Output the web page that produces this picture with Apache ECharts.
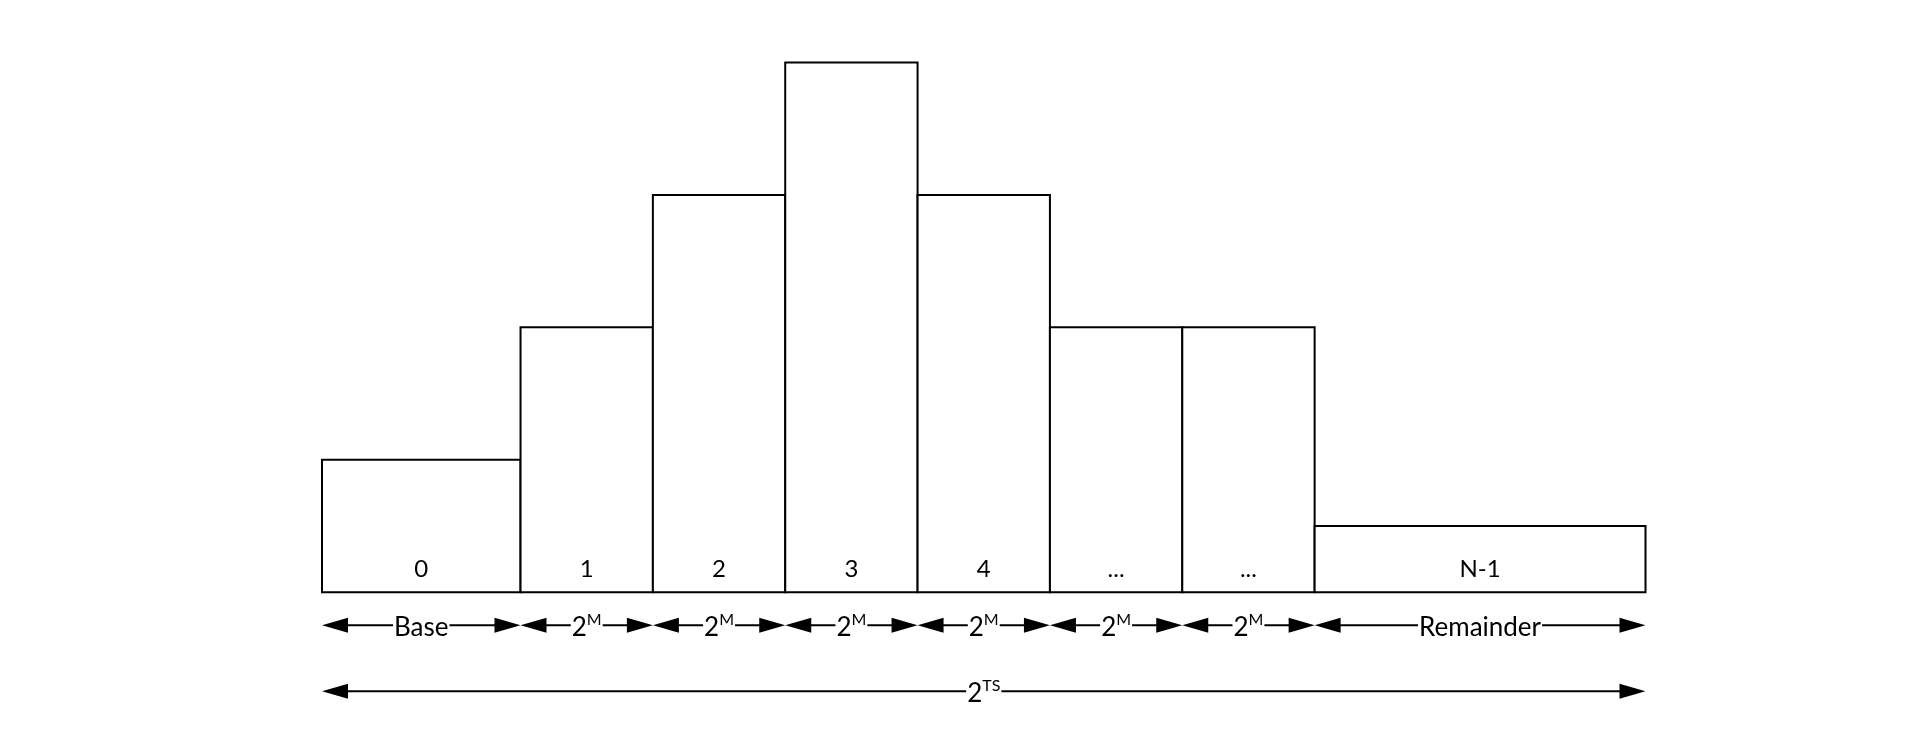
<!DOCTYPE html>
<html>
<head>
<meta charset="utf-8">
<script src="https://cdn.jsdelivr.net/npm/echarts@6/dist/echarts.min.js"></script>
<style>html,body{margin:0;padding:0;background:#fff}#c{width:1910px;height:730px}</style>
</head>
<body>
<div id="c"></div>
<script>
// Data
const barLabels = ['0', '1', '2', '3', '4', '...', '...', 'N-1'];
const widths = [1.5, 1, 1, 1, 1, 1, 1, 2.5];
const heights = [2, 4, 6, 8, 6, 4, 4, 1];
const spanText = ['Base', '2', '2', '2', '2', '2', '2', 'Remainder'];
const spanSup = ['', 'M', 'M', 'M', 'M', 'M', 'M', ''];
const totalText = '2';
const totalSup = 'TS';

const FONT = 'Lato, "Noto Sans", sans-serif';

let acc = 0;
const barData = widths.map((w, i) => {
  const s = acc; acc += w;
  return [s, acc, heights[i], i];
});
const totalWidth = acc;

function arrow(x1, x2, y, main, sup) {
  const L = 26, H = 7.5;
  const txt = sup ? '{a|' + main + '}{s|' + sup + '}' : '{a|' + main + '}';
  return [
    { type: 'line', shape: { x1: x1 + L - 1, y1: y, x2: x2 - L + 1, y2: y }, style: { stroke: '#000', lineWidth: 2 } },
    { type: 'polygon', shape: { points: [[x1, y], [x1 + L, y - H], [x1 + L, y + H]] }, style: { fill: '#000' } },
    { type: 'polygon', shape: { points: [[x2, y], [x2 - L, y - H], [x2 - L, y + H]] }, style: { fill: '#000' } },
    { type: 'text', style: {
        x: (x1 + x2) / 2, y: y + 1, text: txt, align: 'center', verticalAlign: 'middle',
        backgroundColor: '#fff', padding: [0, 1],
        rich: {
          a: { fontFamily: FONT, fontSize: 26, lineHeight: 28, verticalAlign: 'bottom', fill: '#000' },
          s: { fontFamily: FONT, fontSize: 16, lineHeight: 18, verticalAlign: 'top', fill: '#000' }
        }
      } }
  ];
}

const chart = echarts.init(document.getElementById('c'), null, { renderer: 'canvas' });
chart.setOption({
  backgroundColor: '#fff',
  animation: false,
  grid: { left: 322, right: 264.5, top: 62.5, bottom: 137.8 },
  xAxis: { type: 'value', min: 0, max: totalWidth, show: false },
  yAxis: { type: 'value', min: 0, max: 8, show: false },
  series: [
    {
      type: 'custom',
      clip: false,
      data: barData,
      renderItem: function (params, api) {
        const s = api.value(0), e = api.value(1), h = api.value(2), i = api.value(3);
        const p0 = api.coord([s, 0]);
        const p1 = api.coord([e, h]);
        const children = [
          { type: 'rect', shape: { x: p0[0], y: p1[1], width: p1[0] - p0[0], height: p0[1] - p1[1] },
            style: { fill: '#fff', stroke: '#000', lineWidth: 2 } },
          { type: 'text', style: { x: (p0[0] + p1[0]) / 2, y: p0[1] - 23, text: barLabels[i],
            align: 'center', verticalAlign: 'middle', fontFamily: FONT, fontSize: 24, fill: '#000' } }
        ];
        return { type: 'group', children: children.concat(arrow(p0[0], p1[0], p0[1] + 33, spanText[i], spanSup[i])) };
      }
    },
    {
      type: 'custom',
      clip: false,
      data: [[0, totalWidth]],
      renderItem: function (params, api) {
        const p0 = api.coord([api.value(0), 0]);
        const p1 = api.coord([api.value(1), 0]);
        return { type: 'group', children: arrow(p0[0], p1[0], p0[1] + 99, totalText, totalSup) };
      }
    }
  ]
});
</script>
</body>
</html>
